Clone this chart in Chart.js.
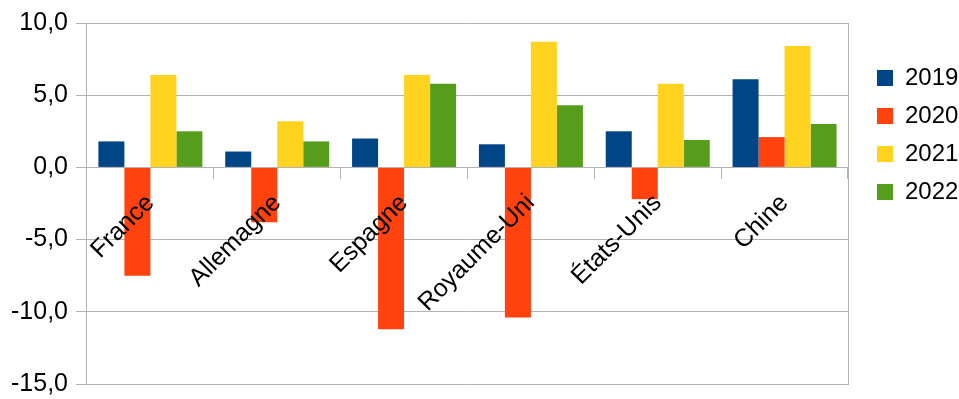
<!DOCTYPE html>
<html>
<head>
<meta charset="utf-8">
<script src="https://cdn.jsdelivr.net/npm/chart.js@4"></script>
<style>
  html, body { margin: 0; padding: 0; background: #fff; }
  #wrap { width: 959px; height: 399px; }
</style>
</head>
<body>
<div id="wrap"><canvas id="graph"></canvas></div>
<script>
// growth per country and year (%)
const countries = ["France", "Allemagne", "Espagne", "Royaume-Uni", "États-Unis", "Chine"];
const years = ["2019", "2020", "2021", "2022"];
const growth2019 = [1.8, 1.1, 2.0, 1.6, 2.5, 6.1];
const growth2020 = [-7.5, -3.8, -11.2, -10.4, -2.2, 2.1];
const growth2021 = [6.4, 3.2, 6.4, 8.7, 5.8, 8.4];
const growth2022 = [2.5, 1.8, 5.8, 4.3, 1.9, 3.0];
const colors = ["#004586", "#ff420e", "#ffd320", "#579d1c"];

const gridColor = "#b3b3b3";
Chart.defaults.font.family = "'Liberation Sans', Arial, sans-serif";
Chart.defaults.color = "#000";

const series = [growth2019, growth2020, growth2021, growth2022];

const ctx = document.getElementById("graph").getContext("2d");
new Chart(ctx, {
    type: "bar",
    data: {
        labels: countries,
        datasets: years.map((year, i) => ({
            label: year,
            data: series[i],
            backgroundColor: colors[i],
            borderWidth: 0,
            barPercentage: 1,
            categoryPercentage: 0.82
        }))
    },
    options: {
        responsive: true,
        maintainAspectRatio: false,
        animation: false,
        layout: {
            padding: { left: 3, top: 23, bottom: 14, right: 0 }
        },
        scales: {
            x: {
                position: { y: 0 },
                grid: {
                    drawOnChartArea: false,
                    color: gridColor,
                    tickLength: 11
                },
                border: { color: gridColor },
                ticks: {
                    z: 1, // country names go over the bars
                    autoSkip: false,
                    minRotation: 45,
                    maxRotation: 45,
                    padding: 10,
                    font: { size: 25 }
                },
                // the axis sits inside the plot, its labels need no outer room
                afterFit: (scale) => {
                    scale.paddingLeft = 0;
                    scale.paddingRight = 0;
                    scale.paddingTop = 0;
                    scale.paddingBottom = 0;
                }
            },
            y: {
                min: -15,
                max: 10,
                grid: {
                    color: gridColor,
                    tickLength: 11
                },
                border: { color: gridColor },
                ticks: {
                    stepSize: 5,
                    padding: 8,
                    font: { size: 25 },
                    callback: (v) => v.toFixed(1).replace(".", ",")
                },
                afterFit: (scale) => {
                    scale.paddingTop = 15;
                    scale.paddingBottom = 15;
                }
            },
            // right frame of the plot
            frame: {
                type: "linear",
                position: "right",
                display: true,
                min: -15,
                max: 10,
                grid: { display: false, drawTicks: false },
                border: { color: gridColor },
                ticks: { display: false },
                afterFit: (scale) => { scale.width = 15; }
            }
        },
        plugins: {
            tooltip: { enabled: false },
            legend: {
                position: "right",
                align: "start",
                maxWidth: 96,
                title: {
                    display: true,
                    text: "",
                    font: { size: 10 },
                    padding: { top: 17, bottom: 0 }
                },
                labels: {
                    boxWidth: 16,
                    boxHeight: 16,
                    padding: 14,
                    font: { size: 24 }
                }
            }
        }
    }
});
</script>
</body>
</html>
